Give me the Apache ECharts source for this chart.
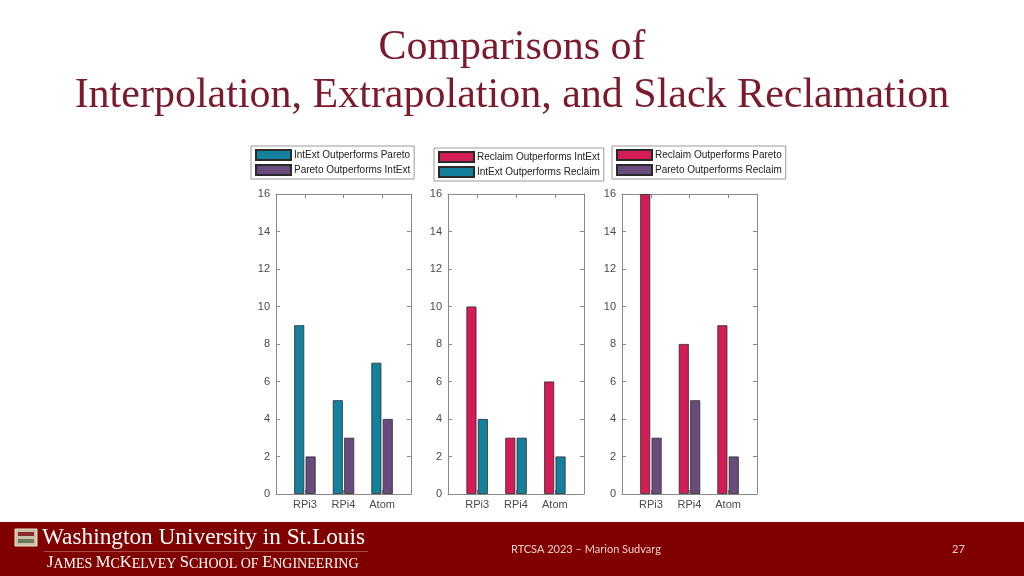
<!DOCTYPE html>
<html>
<head>
<meta charset="utf-8">
<script src="https://cdn.jsdelivr.net/npm/echarts@6/dist/echarts.min.js"></script>
<style>html,body{margin:0;padding:0;background:#fff;}#c{width:1024px;height:576px;}</style>
</head>
<body>
<div id="c"></div>
<script>
const categories = ['RPi3', 'RPi4', 'Atom'];
const yTickMin = 0, yTickMax = 16, yTickStep = 2;

const intExtOverPareto = [9, 5, 7];
const paretoOverIntExt = [2, 3, 4];
const reclaimOverIntExt = [10, 3, 6];
const intExtOverReclaim = [4, 3, 2];
const reclaimOverPareto = [16, 8, 9];
const paretoOverReclaim = [3, 5, 2];

const TEAL = '#13809e', PURPLE = '#6a4b7e', CRIMSON = '#d41d57';

const panels = [
  { left: 276, width: 135, legend: { left: 251, top: 146 },
    series: [
      { name: 'IntExt Outperforms Pareto', color: TEAL, data: intExtOverPareto },
      { name: 'Pareto Outperforms IntExt', color: PURPLE, data: paretoOverIntExt }
    ] },
  { left: 448, width: 136, legend: { left: 434, top: 148 },
    series: [
      { name: 'Reclaim Outperforms IntExt', color: CRIMSON, data: reclaimOverIntExt },
      { name: 'IntExt Outperforms Reclaim', color: TEAL, data: intExtOverReclaim }
    ] },
  { left: 622, width: 135, legend: { left: 612, top: 146 },
    series: [
      { name: 'Reclaim Outperforms Pareto', color: CRIMSON, data: reclaimOverPareto },
      { name: 'Pareto Outperforms Reclaim', color: PURPLE, data: paretoOverReclaim }
    ] }
];

const catPos = categories.map((c, i) => i + 1);
const axisGray = '#8a8a8a';
const labelGray = '#4a4a4a';
const font = 'Liberation Sans, Arial, sans-serif';

const grid = [], xAxis = [], yAxis = [], series = [], legend = [];
panels.forEach((p, gi) => {
  grid.push({ left: p.left, width: p.width, top: 194, height: 300 });
  const xBase = {
    type: 'value', gridIndex: gi, min: 0.25, max: 3.75,
    axisLine: { show: true, onZero: false, lineStyle: { color: axisGray, width: 1 } },
    axisTick: { show: true, inside: true, length: 4, customValues: catPos, lineStyle: { color: axisGray } },
    splitLine: { show: false }
  };
  xAxis.push(Object.assign({}, xBase, {
    position: 'bottom',
    axisLabel: { show: true, customValues: catPos, formatter: v => categories[Math.round(v) - 1] || '',
      color: labelGray, fontSize: 11, fontFamily: font, margin: 5 }
  }));
  xAxis.push(Object.assign({}, xBase, { position: 'top', axisLabel: { show: false } }));
  const yBase = {
    type: 'value', gridIndex: gi, min: yTickMin, max: yTickMax, interval: yTickStep,
    axisLine: { show: true, lineStyle: { color: axisGray, width: 1 } },
    axisTick: { show: true, inside: true, length: 4, lineStyle: { color: axisGray } },
    splitLine: { show: false }
  };
  yAxis.push(Object.assign({}, yBase, { position: 'left',
    axisLabel: { show: true, color: labelGray, fontSize: 11, fontFamily: font, margin: 6 } }));
  yAxis.push(Object.assign({}, yBase, { position: 'right', axisLabel: { show: false } }));
  p.series.forEach(s => {
    series.push({
      type: 'bar', name: s.name, xAxisIndex: gi * 2, yAxisIndex: gi * 2,
      barWidth: 10, barGap: '14%',
      itemStyle: { color: s.color, borderColor: '#2a2a2a', borderWidth: 0.8 },
      data: s.data.map((v, i) => [catPos[i], v])
    });
  });
  legend.push({
    orient: 'vertical', left: p.legend.left, top: p.legend.top,
    data: p.series.map(s => s.name),
    icon: 'rect', itemWidth: 35, itemHeight: 10, itemGap: 3,
    padding: [3, 4, 3, 4], borderColor: '#9a9a9a', borderWidth: 1, backgroundColor: '#fff',
    selectedMode: false,
    textStyle: { color: '#222', fontSize: 10, fontFamily: font, padding: [0, 0, 0, -2] }
  });
});

const option = {
  backgroundColor: '#fff',
  animation: false,
  grid, xAxis, yAxis, series, legend,
  graphic: [
    { type: 'text', x: 512, y: 48, style: { text: 'Comparisons of', textAlign: 'center', textVerticalAlign: 'middle',
      font: '42px "Liberation Serif", "DejaVu Serif", serif', fill: '#7a1a2c' } },
    { type: 'text', x: 512, y: 96, style: { text: 'Interpolation, Extrapolation, and Slack Reclamation', textAlign: 'center', textVerticalAlign: 'middle',
      font: '42px "Liberation Serif", "DejaVu Serif", serif', fill: '#7a1a2c' } },
    { type: 'rect', shape: { x: 0, y: 522, width: 1024, height: 54 }, style: { fill: '#800000' } },
    { type: 'rect', shape: { x: 15, y: 529, width: 22, height: 17 }, style: { fill: '#c9c2a8', stroke: '#e8e2d0', lineWidth: 1 } },
    { type: 'rect', shape: { x: 18, y: 532, width: 16, height: 4 }, style: { fill: '#8a2a2a' } },
    { type: 'rect', shape: { x: 18, y: 539, width: 16, height: 4 }, style: { fill: '#6a7a5a' } },
    { type: 'text', x: 42, y: 538, style: { text: 'Washington University in St.Louis', textVerticalAlign: 'middle',
      font: '23.3px "Liberation Serif", serif', fill: '#ffffff' } },
    { type: 'rect', shape: { x: 44, y: 551, width: 324, height: 0.6 }, style: { fill: '#c89090' } },
    { type: 'text', x: 47, y: 563, style: {
      text: '{b|J}{s|AMES }{b|M}{s|C}{b|K}{s|ELVEY }{b|S}{s|CHOOL OF }{b|E}{s|NGINEERING}',
      textVerticalAlign: 'middle', fill: '#fff',
      rich: { b: { fontSize: 16.5, fontFamily: '"Liberation Serif", serif', fill: '#fff', verticalAlign: 'bottom' },
              s: { fontSize: 14, fontFamily: '"Liberation Serif", serif', fill: '#fff', verticalAlign: 'bottom' } } } },
    { type: 'text', x: 511, y: 549, style: { text: 'RTCSA 2023 \u2013 Marion Sudvarg', textVerticalAlign: 'middle',
      font: '11px Lato, "Open Sans", sans-serif', fill: '#f0cccc' } },
    { type: 'text', x: 952, y: 549, style: { text: '27', textVerticalAlign: 'middle',
      font: '11px Lato, "Open Sans", sans-serif', fill: '#f0cccc' } }
  ]
};

echarts.init(document.getElementById('c'), null, { renderer: 'canvas' }).setOption(option);
</script>
</body>
</html>
